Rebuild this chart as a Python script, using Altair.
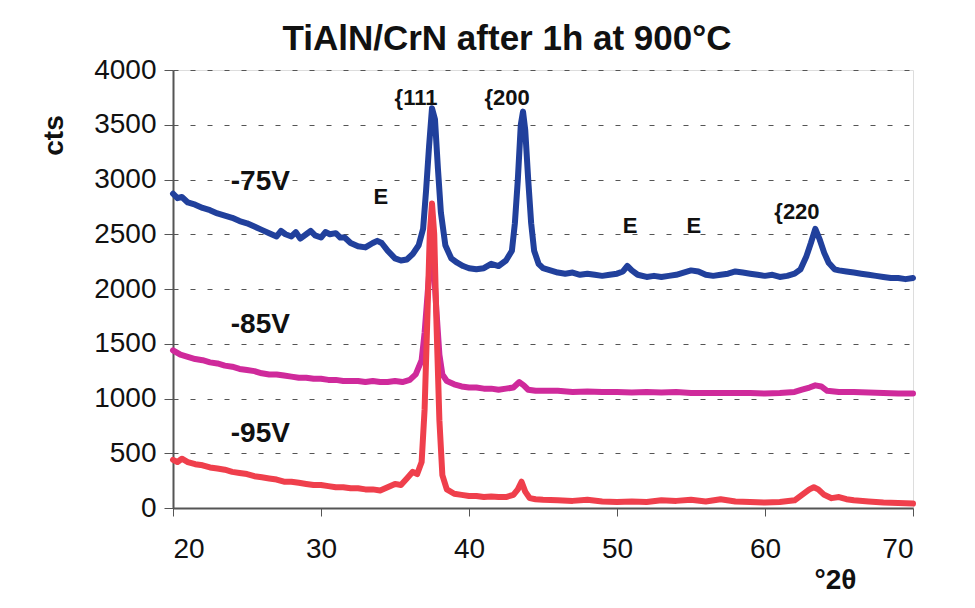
import altair as alt
import pandas as pd

# -75V series (blue)
two_theta_75 = [20.0, 20.3, 20.6, 21.0, 21.5, 22.0, 22.5, 23.0, 23.5, 24.0, 24.5, 25.0, 25.5, 26.0, 26.5,
                27.0, 27.3, 27.6, 28.0, 28.3, 28.6, 29.0, 29.3, 29.6, 30.0, 30.3, 30.6, 31.0, 31.3, 31.6,
                32.0, 32.5, 33.0, 33.5, 33.8, 34.1, 34.5, 35.0, 35.4, 35.8, 36.2, 36.6, 36.9, 37.1, 37.3,
                37.5, 37.7, 37.9, 38.1, 38.4, 38.8, 39.2, 39.6, 40.0, 40.5, 41.0, 41.5, 42.0, 42.5, 42.9,
                43.1, 43.3, 43.5, 43.65, 43.8, 44.0, 44.2, 44.4, 44.7, 45.0, 45.5, 46.0, 46.5, 47.0, 47.5,
                48.0, 48.5, 49.0, 49.5, 50.0, 50.4, 50.7, 51.0, 51.4, 52.0, 52.5, 53.0, 53.5, 54.0, 54.5,
                55.0, 55.5, 56.0, 56.5, 57.0, 57.5, 58.0, 58.5, 59.0, 59.5, 60.0, 60.5, 61.0, 61.5, 62.0,
                62.4, 62.8, 63.1, 63.4, 63.7, 64.0, 64.3, 64.7, 65.0, 65.5, 66.0, 66.5, 67.0, 67.5, 68.0,
                68.5, 69.0, 69.5, 70.0]
cts_75 = [2870, 2830, 2840, 2790, 2770, 2740, 2720, 2690, 2670, 2650, 2620, 2600, 2570, 2540, 2510,
          2480, 2530, 2500, 2480, 2520, 2460, 2500, 2530, 2490, 2470, 2520, 2500, 2510, 2470, 2470,
          2420, 2390, 2380, 2420, 2440, 2420, 2350, 2280, 2260, 2270, 2320, 2400, 2550, 2900, 3300,
          3650, 3550, 3100, 2700, 2400, 2280, 2240, 2210, 2190, 2180, 2190, 2230, 2210, 2260, 2350,
          2600, 3000, 3500, 3620, 3450, 3000, 2600, 2350, 2230, 2190, 2170, 2150, 2140, 2150, 2130,
          2140, 2130, 2120, 2130, 2140, 2160, 2210, 2170, 2130, 2110, 2120, 2110, 2120, 2130, 2150,
          2170, 2160, 2130, 2120, 2130, 2140, 2160, 2150, 2140, 2130, 2120, 2130, 2110, 2120, 2140,
          2180, 2300, 2420, 2550, 2450, 2330, 2240, 2180, 2170, 2160, 2150, 2140, 2130, 2120, 2110,
          2100, 2100, 2090, 2100]

# -85V series (magenta)
two_theta_85 = [20.0, 20.5, 21.0, 21.5, 22.0, 22.5, 23.0, 23.5, 24.0, 24.5, 25.0, 25.5, 26.0, 26.5, 27.0,
                27.5, 28.0, 28.5, 29.0, 29.5, 30.0, 30.5, 31.0, 31.5, 32.0, 32.5, 33.0, 33.5, 34.0, 34.5,
                35.0, 35.5, 36.0, 36.4, 36.8, 37.0, 37.2, 37.4, 37.6, 37.8, 38.0, 38.2, 38.5, 39.0, 39.5,
                40.0, 40.5, 41.0, 41.5, 42.0, 42.5, 43.0, 43.4, 43.7, 44.0, 44.5, 45.0, 46.0, 47.0, 48.0,
                49.0, 50.0, 51.0, 52.0, 53.0, 54.0, 55.0, 56.0, 57.0, 58.0, 59.0, 60.0, 61.0, 62.0, 62.5,
                63.0, 63.4, 63.8, 64.2, 65.0, 66.0, 67.0, 68.0, 69.0, 70.0]
cts_85 = [1440, 1400, 1380, 1360, 1350, 1330, 1320, 1300, 1290, 1270, 1260, 1250, 1230, 1220, 1220,
          1210, 1200, 1190, 1190, 1180, 1180, 1170, 1170, 1160, 1160, 1160, 1150, 1160, 1150, 1150,
          1160, 1150, 1170, 1220, 1350, 1600, 1950, 2300, 2250, 1800, 1400, 1220, 1160, 1130, 1110,
          1100, 1100, 1090, 1090, 1080, 1090, 1100, 1150, 1120, 1080, 1070, 1070, 1070, 1060, 1065,
          1060, 1060, 1055, 1060, 1055, 1060, 1050, 1050, 1050, 1050, 1050, 1045, 1050, 1060, 1080,
          1100, 1120, 1110, 1070, 1060, 1060, 1055, 1050, 1045, 1045]

# -95V series (red)
two_theta_95 = [20.0, 20.3, 20.6, 21.0, 21.5, 22.0, 22.5, 23.0, 23.5, 24.0, 24.5, 25.0, 25.5, 26.0, 26.5,
                27.0, 27.5, 28.0, 28.5, 29.0, 29.5, 30.0, 30.5, 31.0, 31.5, 32.0, 32.5, 33.0, 33.5, 34.0,
                34.5, 35.0, 35.4, 35.8, 36.2, 36.5, 36.8, 37.0, 37.2, 37.35, 37.5, 37.65, 37.8, 38.0, 38.2,
                38.5, 39.0, 39.5, 40.0, 40.5, 41.0, 41.5, 42.0, 42.5, 43.0, 43.3, 43.55, 43.8, 44.1, 44.5,
                45.0, 46.0, 47.0, 48.0, 49.0, 50.0, 51.0, 52.0, 53.0, 54.0, 55.0, 56.0, 57.0, 58.0, 59.0,
                60.0, 61.0, 62.0, 62.5, 63.0, 63.3, 63.6, 64.0, 64.5, 65.0, 65.5, 66.0, 67.0, 68.0, 69.0,
                70.0]
cts_95 = [440, 420, 450, 420, 400, 390, 370, 360, 350, 330, 320, 310, 290, 280, 270,
          260, 240, 240, 230, 220, 210, 210, 200, 190, 190, 180, 180, 170, 170, 160,
          190, 220, 210, 270, 330, 310, 420, 900, 1800, 2500, 2780, 2500, 1700, 800, 300,
          170, 130, 120, 110, 110, 100, 105, 100, 100, 120, 170, 240, 150, 90, 80,
          75, 70, 65, 75, 60, 55, 60, 55, 70, 65, 75, 60, 80, 60, 55,
          50, 55, 70, 120, 170, 190, 170, 120, 90, 100, 80, 70, 60, 50, 45,
          40]

# Annotations
label_text = ["-75V", "-85V", "-95V"]
label_x = [25.9, 25.9, 25.9]
label_y = [2977, 1671, 676]

peak_text = ["E", "{111", "{200", "E", "E", "{220"]
peak_x = [34.05, 36.42, 42.57, 50.88, 55.2, 62.16]
peak_y = [2840, 3744, 3744, 2575, 2575, 2703]

title_text = ["TiAlN/CrN after 1h at 900°C"]

FONT = "Liberation Sans, Arial, Helvetica, sans-serif"

df75 = pd.DataFrame({"x": two_theta_75, "y": cts_75})
df85 = pd.DataFrame({"x": two_theta_85, "y": cts_85})
df95 = pd.DataFrame({"x": two_theta_95, "y": cts_95})
dlab = pd.DataFrame({"x": label_x, "y": label_y, "t": label_text})
dpk = pd.DataFrame({"x": peak_x, "y": peak_y, "t": peak_text})
dtitle = pd.DataFrame({"t": title_text})

xscale = alt.Scale(domain=[20, 70], nice=False, zero=False)
yscale = alt.Scale(domain=[0, 4000], nice=False)

xaxis = alt.Axis(values=[20, 30, 40, 50, 60, 70], title="°2θ", grid=False, format="d",
                 labelFontSize=28, labelFont=FONT, labelColor="#111", labelPadding=19,
                 tickSize=8, tickColor="#555", domainColor="#555", domainWidth=2,
                 titleFontSize=28, titleFont=FONT, titleFontWeight="bold", titleColor="#111",
                 titleX=662, titleY=80, titleAlign="center", titleBaseline="alphabetic")
yaxis = alt.Axis(values=[0, 500, 1000, 1500, 2000, 2500, 3000, 3500, 4000], title="cts", format="d",
                 grid=True, gridDash=[5, 12], gridColor="#555", gridWidth=1.2,
                 labelFontSize=28, labelFont=FONT, labelColor="#111", labelPadding=8,
                 tickSize=9, tickColor="#555", domainColor="#555", domainWidth=2,
                 titleFontSize=28, titleFont=FONT, titleFontWeight="bold", titleColor="#111",
                 titleAngle=-90, titleX=-111, titleY=65, titleAlign="center", titleBaseline="alphabetic")


def line(df, color):
    return alt.Chart(df).mark_line(color=color, strokeWidth=6, strokeJoin="round", strokeCap="round").encode(
        x=alt.X("x:Q", scale=xscale, axis=xaxis),
        y=alt.Y("y:Q", scale=yscale, axis=yaxis),
    )


blue = line(df75, "#21409c")
magenta = line(df85, "#cf2a9b")
red = line(df95, "#ef3f4c")

labels = alt.Chart(dlab).mark_text(font=FONT, fontSize=28, fontWeight="bold", color="#111").encode(
    x=alt.X("x:Q", scale=xscale), y=alt.Y("y:Q", scale=yscale), text="t:N")
peaks = alt.Chart(dpk).mark_text(font=FONT, fontSize=22, fontWeight="bold", color="#111").encode(
    x=alt.X("x:Q", scale=xscale), y=alt.Y("y:Q", scale=yscale), text="t:N")
title = alt.Chart(dtitle).mark_text(font=FONT, fontSize=35, fontWeight="bold", color="#111",
                                    baseline="alphabetic", align="center").encode(
    x=alt.value(334), y=alt.value(-20), text="t:N")

chart = alt.layer(blue, magenta, red, labels, peaks, title).properties(
    width=740, height=438,
    padding={"left": 165, "top": 62, "right": 54, "bottom": 92},
    autosize="none",
).configure_view(stroke="#9a9a9a", strokeWidth=2).configure(background="white")

chart.save("out.html", embed_options={"renderer": "svg", "actions": False})
